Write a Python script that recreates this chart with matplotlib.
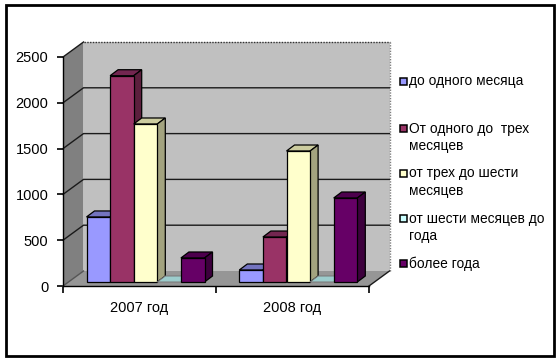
import matplotlib
matplotlib.use('Agg')
import matplotlib.pyplot as plt
from matplotlib.patches import Polygon, Rectangle

categories = ['2007 год', '2008 год']
series_names = ['до одного месяца', 'От одного до  трех\nмесяцев', 'от трех до шести\nмесяцев',
                'от шести месяцев до\nгода', 'более года']
s1 = [710, 131]
s2 = [2252, 491]
s3 = [1725, 1430]
s4 = [0, 0]
s5 = [262, 917]
series = [s1, s2, s3, s4, s5]
front = ['#9999FF', '#993366', '#FFFFCC', '#CCFFFF', '#660066']
top = ['#7373BF', '#732650', '#CCCC9F', '#9CCCCC', '#4D004D']
side = ['#5C5C99', '#5C1F3D', '#A3A37F', '#7A9999', '#3D003D']
yticks = [0, 500, 1000, 1500, 2000, 2500]

W, H = 558, 360
plt.rcParams['font.family'] = ['Liberation Sans', 'DejaVu Sans']
fig = plt.figure(figsize=(W / 100, H / 100), dpi=100, facecolor='white')
fig.add_artist(Rectangle((5.5 / W, 1 - 356 / H), 548 / W, 351 / H, transform=fig.transFigure,
                         fill=False, ec='black', lw=2.0))

L, R, T, B = 63, 369, 57, 286
ax = fig.add_axes([L / W, 1 - B / H, (R - L) / W, (B - T) / H])
ax.set_xlim(0, 2)
ax.set_ylim(0, 2500)
ax.patch.set_visible(False)
px = 2 / (R - L)
py = 2500 / (B - T)
DX, DY = 20.5 * px, 15 * py
ymax = 2500

def poly(pts, fc, ec='black', lw=0.9, z=1):
    ax.add_patch(Polygon(pts, closed=True, fc=fc, ec=ec, lw=lw, zorder=z, clip_on=False))

# walls and floor
poly([(0, 0), (DX, DY), (DX, ymax + DY), (0, ymax)], '#808080', ec='none')
poly([(0, 0), (2, 0), (2 + DX, DY), (DX, DY)], '#969696', ec='none')
ax.add_patch(Rectangle((DX, DY), 2, ymax, fc='#C0C0C0', ec='none', zorder=1, clip_on=False))
ax.plot([DX, 2 + DX], [ymax + DY] * 2, color='#333333', lw=1, ls=(0, (1, 1)), zorder=2, clip_on=False)
ax.plot([2 + DX] * 2, [DY, ymax + DY], color='#808080', lw=1, ls=(0, (1, 1)), zorder=2, clip_on=False)
for v in yticks[1:-1]:
    ax.plot([0, DX, 2 + DX], [v, v + DY, v + DY], color='#1a1a1a', lw=1, zorder=2, clip_on=False)
ax.plot([0, DX], [2500, 2500 + DY], color='#1a1a1a', lw=1, zorder=2, clip_on=False)
ax.plot([0, DX], [0, DY], color='#555555', lw=1, zorder=2, clip_on=False)
ax.plot([2, 2 + DX], [0, DY], color='#1a1a1a', lw=1, zorder=2, clip_on=False)

# bars
bw = 23.6 * px
bdx, bdy = 8 * px, 6 * py
base = 4 * py
start = [23.5 * px, 1 + 23.3 * px]
for g in range(2):
    for i, vals in enumerate(series):
        x0 = start[g] + i * bw
        x1 = x0 + bw
        h = vals[g] + base
        z = 3 + g * 10 + i
        if vals[g] == 0:
            poly([(x0, h), (x1, h), (x1 + bdx, h + bdy), (x0 + bdx, h + bdy)], top[i],
                 ec='#777777', lw=0.7, z=z + .1)
            continue
        poly([(x0, base), (x1, base), (x1, h), (x0, h)], front[i], z=z + .2)
        poly([(x0, h), (x1, h), (x1 + bdx, h + bdy), (x0 + bdx, h + bdy)], top[i], z=z + .1)
        poly([(x1, base), (x1 + bdx, base + bdy), (x1 + bdx, h + bdy), (x1, h)], side[i], z=z + .1)

# axes
for s in ['top', 'right']:
    ax.spines[s].set_visible(False)
for s in ['left', 'bottom']:
    ax.spines[s].set_linewidth(1.0)
    ax.spines[s].set_zorder(30)
ax.set_yticks(yticks)
ax.set_xticks([0, 1, 2])
ax.set_xticklabels([])
ax.set_xticks([0.5, 1.5], minor=True)
ax.set_xticklabels(categories, minor=True)
ax.tick_params(axis='x', which='minor', length=0, pad=11, labelsize=10.5)
ax.tick_params(axis='x', which='major', length=5, width=1.2, direction='out')
ax.tick_params(axis='y', length=4, width=1.2, direction='out', pad=6.5, labelsize=10.5)

# legend
ly = [81, 128, 173, 218, 263]
for name, fc, y in zip(series_names, front, ly):
    fig.add_artist(Rectangle((400 / W, 1 - (y + 3.5) / H), 6.5 / W, 6.5 / H, transform=fig.transFigure,
                             fc=fc, ec='black', lw=1.1))
    fig.text(409 / W, 1 - (y - 6.5) / H, name, fontsize=9.9, va='top', ha='left', linespacing=1.3)

fig.savefig('out.png', dpi=100)
